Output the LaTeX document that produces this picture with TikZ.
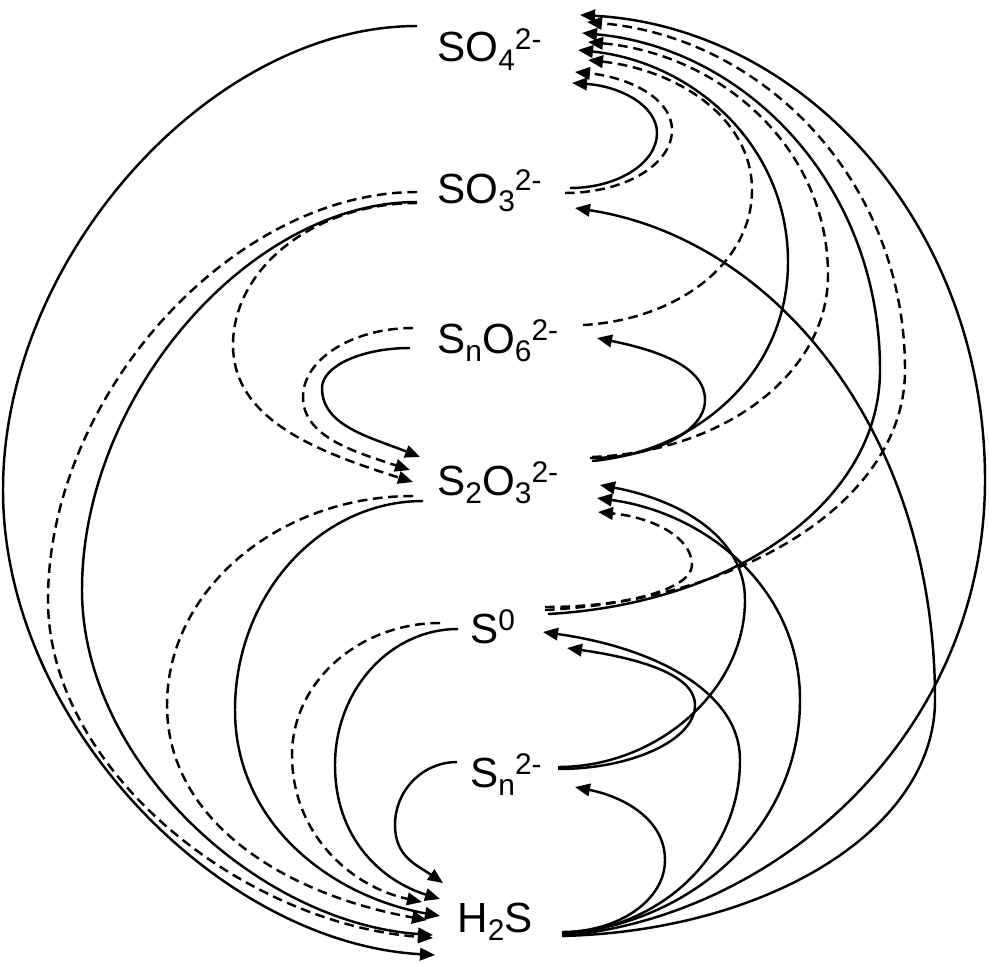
\documentclass[tikz,border=0pt]{standalone}
\usepackage{fontspec}
\setmainfont{Liberation Sans}
\usetikzlibrary{arrows.meta}
\newcommand{\lo}[1]{\raisebox{-0.36ex}{\fontsize{17}{17}\selectfont #1}}
\newcommand{\hi}[1]{\raisebox{0.55ex}{\fontsize{17}{17}\selectfont #1}}
\begin{document}
\begin{tikzpicture}[x=0.02cm,y=-0.02cm,
  lbl/.style={inner sep=0pt,anchor=base west,font=\fontsize{24}{28}\selectfont},
  sol/.style={line width=1.4pt,-{Triangle[length=0.3cm,width=0.25cm]}},
  dsh/.style={sol,dash pattern=on 5.5pt off 3.2pt}]
\path[use as bounding box] (0,0) rectangle (989,963);
% species
\node[lbl] (so4)  at (437,62)  {SO\lo{4}\hi{2-}};
\node[lbl] (so3)  at (437,203) {SO\lo{3}\hi{2-}};
\node[lbl] (sno6) at (437,353) {S\lo{n}O\lo{6}\hi{2-}};
\node[lbl] (s2o3) at (437,495) {S\lo{2}O\lo{3}\hi{2-}};
\node[lbl] (s0)   at (470,643) {S\hi{0}};
\node[lbl] (sn)   at (470,787) {S\lo{n}\hi{2-}};
\node[lbl] (h2s)  at (457,932) {H\lo{2}S};
% connector ends
\coordinate (L1s) at (417,26);  \coordinate (L1e) at (435,955);
\coordinate (L2s) at (417,192); \coordinate (L2e) at (433,938);
\coordinate (L3s) at (417,202); \coordinate (L3e) at (433,935);
\coordinate (L4s) at (417,203); \coordinate (L4e) at (413,482);
\coordinate (L5s) at (413,328); \coordinate (L5e) at (410,470);
\coordinate (L6s) at (410,348); \coordinate (L6e) at (420,457);
\coordinate (L7s) at (413,496); \coordinate (L7e) at (427,920);
\coordinate (L8s) at (423,501); \coordinate (L8e) at (440,916);
\coordinate (L9s) at (440,623); \coordinate (L9e) at (422,902);
\coordinate (L10s) at (458,629); \coordinate (L10e) at (440,899);
\coordinate (L11s) at (457,762); \coordinate (L11e) at (443,883);
\coordinate (R1s) at (570,188); \coordinate (R1e) at (572,83);
\coordinate (R2s) at (565,193); \coordinate (R2e) at (575,72);
\coordinate (R3s) at (583,325); \coordinate (R3e) at (588,60);
\coordinate (R4s) at (592,461); \coordinate (R4e) at (578,50);
\coordinate (R5s) at (592,457); \coordinate (R5e) at (588,42);
\coordinate (R6s) at (548,614); \coordinate (R6e) at (582,33);
\coordinate (R7s) at (545,610); \coordinate (R7e) at (587,22);
\coordinate (R8s) at (562,936); \coordinate (R8e) at (580,15);
\coordinate (R9s) at (562,936); \coordinate (R9e) at (575,208);
\coordinate (R10s) at (562,934); \coordinate (R10e) at (597,498);
\coordinate (R11s) at (558,767); \coordinate (R11e) at (600,485);
\coordinate (R12s) at (545,607); \coordinate (R12e) at (598,512);
\coordinate (R13s) at (562,934); \coordinate (R13e) at (543,632);
\coordinate (R14s) at (558,769); \coordinate (R14e) at (567,648);
\coordinate (R15s) at (562,932); \coordinate (R15e) at (575,787);
\coordinate (R16s) at (590,458); \coordinate (R16e) at (597,338);
% left side (reductions)
\draw[sol] (L1s) .. controls +(-207,0) and +(0,-232) .. (3,490) .. controls +(0,232) and +(-216,-12) .. (L1e);
\draw[dsh] (L2s) .. controls +(-185,0) and +(0,-204) .. (48,600) .. controls +(0,169) and +(-192,-15) .. (L2e);
\draw[sol] (L3s) .. controls +(-168,0) and +(0,-194) .. (82,590) .. controls +(0,172) and +(-175,-12) .. (L3e);
\draw[dsh] (L4s) .. controls +(-101,0) and +(0,-78) .. (233,345) .. controls +(0,75) and +(-95,-30) .. (L4e);
\draw[dsh] (L5s) .. controls +(-60,0) and +(0,-38) .. (303,397) .. controls +(0,40) and +(-55,-18) .. (L5e);
\draw[sol] (L6s) .. controls +(-48,0) and +(0,-22) .. (322,388) .. controls +(0,38) and +(-50,-20) .. (L6e);
\draw[dsh] (L7s) .. controls +(-135,0) and +(0,-115) .. (167,705) .. controls +(0,118) and +(-140,-25) .. (L7e);
\draw[sol] (L8s) .. controls +(-103,0) and +(0,-115) .. (235,710) .. controls +(0,113) and +(-110,-20) .. (L8e);
\draw[dsh] (L9s) .. controls +(-81,0) and +(0,-73) .. (292,755) .. controls +(0,80) and +(-70,-15) .. (L9e);
\draw[sol] (L10s) .. controls +(-68,0) and +(0,-75) .. (335,765) .. controls +(0,74) and +(-58,-18) .. (L10e);
\draw[sol] (L11s) .. controls +(-34,0) and +(0,-35) .. (395,825) .. controls +(0,32) and +(-26,-18) .. (L11e);
% right side (oxidations)
\draw[sol] (R1s) .. controls +(48,0) and +(0,30) .. (657,133) .. controls +(0,-28) and +(47,3) .. (R1e);
\draw[dsh] (R2s) .. controls +(59,0) and +(0,35) .. (672,130) .. controls +(0,-32) and +(53,5) .. (R2e);
\draw[dsh] (R3s) .. controls +(93,-5) and +(0,74) .. (752,190) .. controls +(0,-72) and +(90,10) .. (R3e);
\draw[sol] (R4s) .. controls +(108,-10) and +(0,109) .. (788,262) .. controls +(0,-117) and +(115,12) .. (R4e);
\draw[dsh] (R5s) .. controls +(130,-5) and +(0,100) .. (828,275) .. controls +(0,-128) and +(132,12) .. (R5e);
\draw[sol] (R6s) .. controls +(183,-10) and +(0,134) .. (880,370) .. controls +(0,-185) and +(164,15) .. (R6e);
\draw[dsh] (R7s) .. controls +(198,-10) and +(0,131) .. (905,370) .. controls +(0,-191) and +(175,15) .. (R7e);
\draw[sol] (R8s) .. controls +(220,-20) and +(0,250) .. (985,480) .. controls +(0,-256) and +(223,12) .. (R8e);
\draw[sol] (R9s) .. controls +(205,-5) and +(0,130) .. (935,700) .. controls +(0,-270) and +(198,30) .. (R9e);
\draw[sol] (R10s) .. controls +(130,-10) and +(0,128) .. (800,700) .. controls +(0,-111) and +(110,15) .. (R10e);
\draw[sol] (R11s) .. controls +(100,0) and +(0,90) .. (745,600) .. controls +(0,-63) and +(80,15) .. (R11e);
\draw[dsh] (R12s) .. controls +(81,0) and +(0,24) .. (692,565) .. controls +(0,-29) and +(52,5) .. (R12e);
\draw[sol] (R13s) .. controls +(98,-5) and +(0,96) .. (740,760) .. controls +(0,-70) and +(108,15) .. (R13e);
\draw[sol] (R14s) .. controls +(74,0) and +(0,35) .. (695,705) .. controls +(0,-31) and +(70,10) .. (R14e);
\draw[sol] (R15s) .. controls +(57,0) and +(0,40) .. (665,860) .. controls +(0,-40) and +(50,10) .. (R15e);
\draw[sol] (R16s) .. controls +(63,0) and +(0,32) .. (705,400) .. controls +(0,-34) and +(59,12) .. (R16e);
\end{tikzpicture}
\end{document}
